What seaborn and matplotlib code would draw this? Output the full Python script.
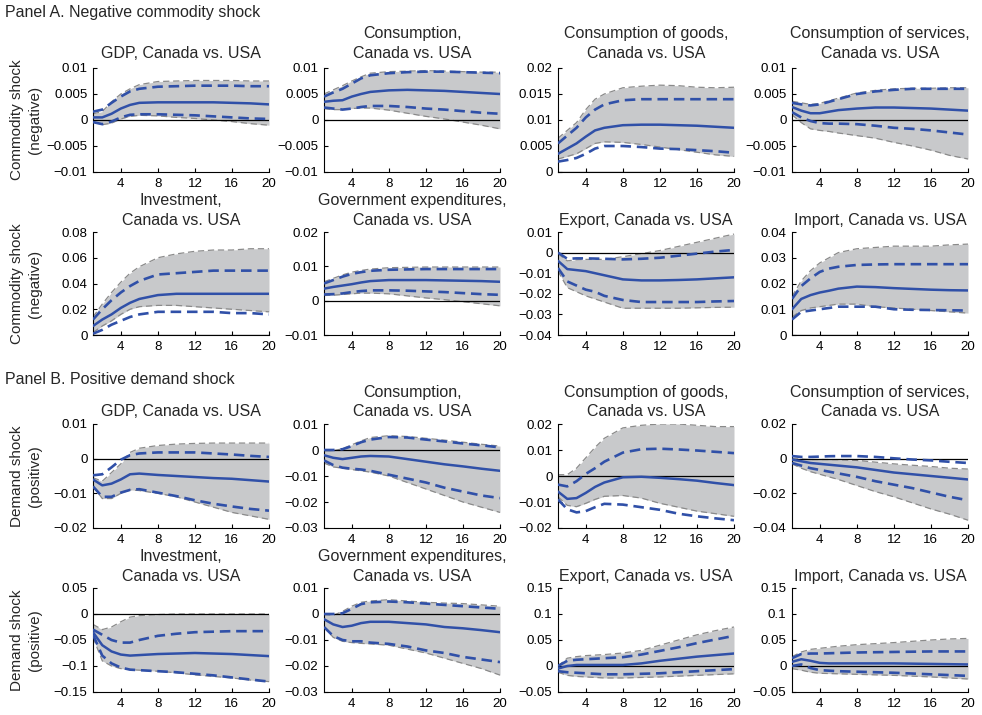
import matplotlib
matplotlib.use("Agg")
import matplotlib.pyplot as plt
import seaborn as sns

# Impulse-response horizons (quarters)
horizon = [1, 2, 3, 4, 5, 6, 8, 10, 12, 14, 16, 18, 20]

titles_a = ["GDP, Canada vs. USA", "Consumption,\nCanada vs. USA",
            "Consumption of goods,\nCanada vs. USA", "Consumption of services,\nCanada vs. USA",
            "Investment,\nCanada vs. USA", "Government expenditures,\nCanada vs. USA",
            "Export, Canada vs. USA", "Import, Canada vs. USA"]
titles_b = titles_a

yticks_a = [[-0.01, -0.005, 0, 0.005, 0.01], [-0.01, -0.005, 0, 0.005, 0.01],
            [0, 0.005, 0.01, 0.015, 0.02], [-0.01, -0.005, 0, 0.005, 0.01],
            [0, 0.02, 0.04, 0.06, 0.08], [-0.01, 0, 0.01, 0.02],
            [-0.04, -0.03, -0.02, -0.01, 0, 0.01], [0, 0.01, 0.02, 0.03, 0.04]]
yticks_b = [[-0.02, -0.01, 0, 0.01], [-0.03, -0.02, -0.01, 0, 0.01],
            [-0.02, -0.01, 0, 0.01, 0.02], [-0.04, -0.02, 0, 0.02],
            [-0.15, -0.1, -0.05, 0, 0.05], [-0.03, -0.02, -0.01, 0, 0.01],
            [-0.05, 0, 0.05, 0.1, 0.15], [-0.05, 0, 0.05, 0.1, 0.15]]

row_labels = ["Commodity shock\n(negative)", "Commodity shock\n(negative)",
              "Demand shock\n(positive)", "Demand shock\n(positive)"]

# ---- Panel A: negative commodity shock ----
a_point = [
    [.0005, .0005, .0012, .0022, .0029, .0033, .0034, .0034, .0034, .0034, .0033, .0032, .0030],
    [.0035, .0037, .0038, .0045, .0050, .0054, .0057, .0058, .0057, .0056, .0054, .0052, .0050],
    [.0035, .0045, .0055, .0068, .0080, .0085, .0090, .0091, .0091, .0090, .0089, .0087, .0085],
    [.0025, .0018, .0013, .0013, .0016, .0019, .0022, .0024, .0024, .0023, .0022, .0020, .0018],
    [.007, .012, .016, .021, .025, .028, .031, .032, .032, .032, .032, .032, .032],
    [.0035, .0040, .0044, .0048, .0053, .0057, .0060, .0060, .0060, .0059, .0058, .0057, .0055],
    [-.004, -.008, -.0085, -.009, -.010, -.011, -.013, -.0135, -.0135, -.0133, -.013, -.0125, -.012],
    [.010, .014, .0155, .0165, .0172, .018, .0188, .0186, .0182, .0179, .0176, .0174, .0173],
]
a_inner_hi = [
    [.0016, .0020, .0033, .0045, .0055, .0060, .0064, .0065, .0066, .0066, .0066, .0065, .0065],
    [.0045, .0053, .0060, .0070, .0080, .0086, .0090, .0092, .0093, .0093, .0092, .0091, .0090],
    [.0055, .0070, .0085, .0105, .0120, .0130, .0138, .0140, .0140, .0140, .0140, .0140, .0140],
    [.0033, .0030, .0028, .0030, .0035, .0040, .0050, .0055, .0058, .0060, .0060, .0060, .0060],
    [.012, .020, .027, .033, .038, .042, .047, .048, .049, .050, .050, .050, .050],
    [.0050, .0060, .0070, .0078, .0083, .0087, .0090, .0091, .0092, .0092, .0092, .0092, .0092],
    [.000, -.003, -.0028, -.0028, -.0029, -.003, -.0033, -.003, -.0025, -.0015, -.0005, .0005, .0013],
    [.014, .019, .022, .0245, .0258, .0265, .0272, .0274, .0275, .0275, .0275, .0275, .0275],
]
a_inner_lo = [
    [-.0004, -.0008, -.0003, .0005, .0010, .0011, .0011, .0010, .0009, .0007, .0005, .0003, .0002],
    [.0024, .0022, .0020, .0022, .0025, .0027, .0027, .0025, .0022, .0020, .0017, .0014, .0012],
    [.0020, .0023, .0027, .0035, .0045, .0050, .0050, .0048, .0045, .0044, .0042, .0040, .0037],
    [.0015, .0005, -.0002, -.0006, -.0007, -.0007, -.0008, -.0011, -.0015, -.0017, -.0020, -.0024, -.0028],
    [.001, .004, .008, .011, .014, .016, .018, .018, .018, .018, .017, .017, .016],
    [.0018, .0019, .0021, .0025, .0028, .0030, .0030, .0029, .0027, .0025, .0022, .0019, .0017],
    [-.0075, -.014, -.016, -.018, -.019, -.021, -.023, -.024, -.024, -.024, -.024, -.0237, -.0235],
    [.006, .009, .0095, .010, .0105, .011, .011, .011, .010, .0098, .0097, .0096, .0095],
]
a_outer_hi = [
    [.0012, .0016, .0035, .0050, .0060, .0068, .0074, .0075, .0076, .0076, .0076, .0075, .0075],
    [.0050, .0058, .0066, .0075, .0083, .0090, .0093, .0094, .0095, .0094, .0093, .0092, .0092],
    [.0065, .0080, .0095, .0120, .0140, .0150, .0162, .0165, .0167, .0166, .0163, .0162, .0163],
    [.0036, .0033, .0030, .0032, .0037, .0042, .0052, .0057, .0060, .0061, .0061, .0062, .0062],
    [.014, .024, .033, .041, .048, .053, .060, .063, .065, .066, .066, .067, .067],
    [.0055, .0065, .0075, .0083, .0088, .0092, .0096, .0097, .0098, .0098, .0098, .0098, .0098],
    [-.0005, -.004, -.0035, -.0033, -.0033, -.0033, -.002, -.0005, .001, .003, .005, .007, .009],
    [.015, .021, .025, .028, .030, .032, .0335, .034, .0345, .0345, .0345, .035, .0353],
]
a_outer_lo = [
    [-.0003, -.0009, -.0006, .0002, .0007, .0009, .0008, .0005, .0003, .0000, -.0003, -.0007, -.0010],
    [.0022, .0020, .0020, .0022, .0023, .0023, .0019, .0013, .0007, .0002, -.0004, -.0010, -.0017],
    [.0025, .0030, .0035, .0045, .0055, .0058, .0057, .0053, .0048, .0043, .0038, .0033, .0030],
    [.0010, -.0005, -.0017, -.0020, -.0022, -.0025, -.0030, -.0035, -.0043, -.0050, -.0058, -.0068, -.0075],
    [.002, .007, .011, .016, .020, .022, .023, .023, .022, .021, .020, .019, .018],
    [.0015, .0016, .0018, .0020, .0022, .0022, .0020, .0014, .0008, .0003, -.0003, -.0009, -.0015],
    [-.009, -.017, -.019, -.021, -.0225, -.024, -.027, -.027, -.027, -.027, -.0268, -.0266, -.0265],
    [.007, .0095, .0105, .011, .0115, .012, .012, .011, .0105, .010, .0095, .009, .0085],
]

# ---- Panel B: positive demand shock ----
b_point = [
    [-.006, -.0077, -.0072, -.006, -.0045, -.0043, -.0047, -.005, -.0053, -.0056, -.0058, -.0062, -.0066],
    [-.002, -.003, -.0035, -.003, -.0025, -.0023, -.0025, -.0035, -.0045, -.0055, -.0063, -.0072, -.008],
    [-.006, -.0088, -.0085, -.0065, -.0042, -.0025, -.0005, -.0003, -.0007, -.0012, -.0018, -.0027, -.0035],
    [-.0005, -.0015, -.0025, -.003, -.0035, -.004, -.005, -.0065, -.008, -.009, -.010, -.011, -.012],
    [-.035, -.060, -.072, -.078, -.080, -.079, -.077, -.076, -.075, -.076, -.077, -.079, -.081],
    [-.002, -.004, -.005, -.0045, -.0035, -.003, -.003, -.0035, -.004, -.005, -.0055, -.0062, -.007],
    [-.005, .000, .002, .002, .002, .002, .002, .005, .010, .014, .018, .021, .024],
    [.008, .013, .010, .006, .005, .005, .005, .005, .005, .0045, .004, .0035, .003],
]
b_inner_hi = [
    [-.0048, -.0045, -.0025, -.0003, .0010, .0015, .0018, .0018, .0018, .0015, .0012, .0008, .0005],
    [.000, .000, .0003, .0015, .003, .004, .005, .0048, .004, .0033, .0025, .0018, .001],
    [-.0033, -.004, -.002, .0008, .003, .0055, .009, .0103, .0105, .0102, .0098, .0093, .0088],
    [.0015, .001, .001, .0012, .0014, .0015, .0015, .001, .0002, -.0005, -.001, -.0018, -.0025],
    [-.030, -.040, -.050, -.055, -.055, -.050, -.042, -.038, -.035, -.034, -.033, -.033, -.033],
    [.000, .000, .0003, .002, .0038, .0045, .0048, .0045, .004, .0035, .003, .0025, .002],
    [.000, .010, .012, .013, .014, .015, .017, .022, .029, .036, .044, .051, .058],
    [.015, .023, .024, .024, .0245, .025, .026, .0265, .027, .0275, .028, .028, .028],
]
b_inner_lo = [
    [-.008, -.011, -.011, -.0098, -.009, -.0088, -.0098, -.0108, -.012, -.013, -.0138, -.0145, -.015],
    [-.004, -.0058, -.0068, -.0072, -.0075, -.008, -.0095, -.011, -.0125, -.0145, -.016, -.0175, -.0185],
    [-.009, -.0128, -.014, -.0135, -.012, -.0107, -.011, -.012, -.013, -.0145, -.0155, -.0163, -.017],
    [-.0025, -.004, -.0055, -.0065, -.0075, -.0085, -.0105, -.013, -.015, -.017, -.0195, -.022, -.024],
    [-.040, -.080, -.095, -.103, -.107, -.108, -.110, -.112, -.115, -.118, -.122, -.126, -.130],
    [-.005, -.0085, -.010, -.0105, -.0105, -.011, -.0115, -.0125, -.014, -.015, -.0165, -.0175, -.0185],
    [-.010, -.012, -.013, -.014, -.015, -.016, -.016, -.015, -.014, -.012, -.010, -.008, -.006],
    [.000, .003, -.004, -.008, -.009, -.010, -.011, -.012, -.013, -.0145, -.016, -.0175, -.019],
]
b_outer_hi = [
    [-.0055, -.0065, -.004, -.0015, .0018, .003, .0038, .0042, .0044, .0045, .0045, .0045, .0045],
    [.000, -.0003, .0005, .002, .0035, .0048, .0055, .0052, .0045, .0038, .003, .0022, .0015],
    [.0005, .0005, .003, .007, .011, .0145, .0185, .0195, .020, .020, .0195, .019, .019],
    [.000, -.0002, -.0005, -.0005, -.0005, -.0006, -.001, -.002, -.003, -.0038, -.0045, -.0055, -.006],
    [-.020, -.030, -.025, -.015, -.006, -.003, -.001, .000, .000, .000, .000, .000, .000],
    [.000, -.0005, .001, .003, .0045, .005, .0055, .005, .0045, .0042, .004, .0035, .003],
    [.000, .015, .018, .020, .021, .022, .025, .030, .040, .050, .060, .068, .075],
    [.018, .027, .032, .034, .036, .038, .041, .043, .045, .0475, .050, .052, .053],
]
b_outer_lo = [
    [-.008, -.0115, -.0115, -.010, -.009, -.0092, -.010, -.011, -.0125, -.014, -.0155, -.0165, -.0175],
    [-.005, -.0065, -.007, -.0075, -.008, -.0085, -.010, -.0125, -.015, -.0175, -.020, -.022, -.024],
    [-.008, -.0113, -.0118, -.0105, -.009, -.0078, -.0075, -.0085, -.0105, -.012, -.0135, -.0145, -.0155],
    [-.003, -.0055, -.0075, -.009, -.0105, -.012, -.0155, -.019, -.022, -.0255, -.029, -.032, -.0355],
    [-.045, -.090, -.100, -.105, -.107, -.108, -.110, -.113, -.117, -.120, -.123, -.127, -.130],
    [-.005, -.009, -.0105, -.011, -.0113, -.0115, -.012, -.0135, -.015, -.017, -.019, -.021, -.0235],
    [-.012, -.018, -.020, -.021, -.022, -.023, -.023, -.022, -.021, -.0195, -.018, -.0165, -.015],
    [-.005, -.008, -.012, -.014, -.0145, -.015, -.016, -.017, -.018, -.0195, -.021, -.023, -.025],
]

BLUE = "#3050a8"
FILL = "#c8c9cb"
EDGE = "#8a8a8a"

sns.set_style("ticks")
plt.rcParams["font.family"] = ["Liberation Sans", "DejaVu Sans"]
plt.rcParams["axes.linewidth"] = 0.8

fig = plt.figure(figsize=(9.82, 7.15), dpi=100)
W, H = 982.0, 715.0
col_left = [93, 324, 558, 792]
col_width = 176
row_top = [68, 232, 424, 588]
row_height = [104, 103, 104, 104]
title_pad = [7.5, 5.0, 5.5, 5.0]


def fmt(v):
    s = f"{v:g}"
    return s.replace("-", "\u2212")


def draw(ax, point, ihi, ilo, ohi, olo, title, ticks, pad):
    ax.fill_between(horizon, olo, ohi, color=FILL, lw=0, zorder=1)
    for edge in (ohi, olo):
        sns.lineplot(x=horizon, y=edge, ax=ax, color=EDGE, lw=0.9,
                     linestyle=(0, (5, 3)), estimator=None, zorder=2)
    ax.axhline(0, color="black", lw=0.9, zorder=3)
    for band in (ihi, ilo):
        sns.lineplot(x=horizon, y=band, ax=ax, color=BLUE, lw=1.9,
                     linestyle=(0, (4, 2.2)), estimator=None, zorder=4)
    sns.lineplot(x=horizon, y=point, ax=ax, color=BLUE, lw=1.8,
                 estimator=None, zorder=5)
    ax.set_xlim(1, 20)
    ax.set_ylim(ticks[0], ticks[-1])
    ax.set_xticks([4, 8, 12, 16, 20])
    ax.set_yticks(ticks, [fmt(t) for t in ticks])
    ax.tick_params(direction="in", length=3, width=0.8, labelsize=9.6,
                   pad=4, colors="black")
    for s in ("top", "right"):
        ax.spines[s].set_visible(False)
    for s in ("left", "bottom"):
        ax.spines[s].set_color("black")
    ax.set_xlabel("")
    ax.set_ylabel("")
    ax.set_title(title, fontsize=11.5, pad=pad, linespacing=1.4)


sets = [(a_point, a_inner_hi, a_inner_lo, a_outer_hi, a_outer_lo, titles_a, yticks_a),
        (b_point, b_inner_hi, b_inner_lo, b_outer_hi, b_outer_lo, titles_b, yticks_b)]

for p, (pt, ihi, ilo, ohi, olo, tl, tk) in enumerate(sets):
    for k in range(8):
        r = 2 * p + k // 4
        c = k % 4
        rect = [col_left[c] / W, 1 - (row_top[r] + row_height[r]) / H,
                col_width / W, row_height[r] / H]
        ax = fig.add_axes(rect)
        draw(ax, pt[k], ihi[k], ilo[k], ohi[k], olo[k], tl[k], tk[k], title_pad[r])

for r in range(4):
    yc = 1 - (row_top[r] + row_height[r] / 2) / H
    fig.text(26 / W, yc, row_labels[r], rotation=90, ha="center", va="center",
             fontsize=11, linespacing=1.35)

fig.text(5 / W, 1 - 12 / H, "Panel A. Negative commodity shock", ha="left",
         va="center", fontsize=11.5)
fig.text(5 / W, 1 - 380 / H, "Panel B. Positive demand shock", ha="left",
         va="center", fontsize=11.5)

fig.savefig("out.png", dpi=100, facecolor="white")
